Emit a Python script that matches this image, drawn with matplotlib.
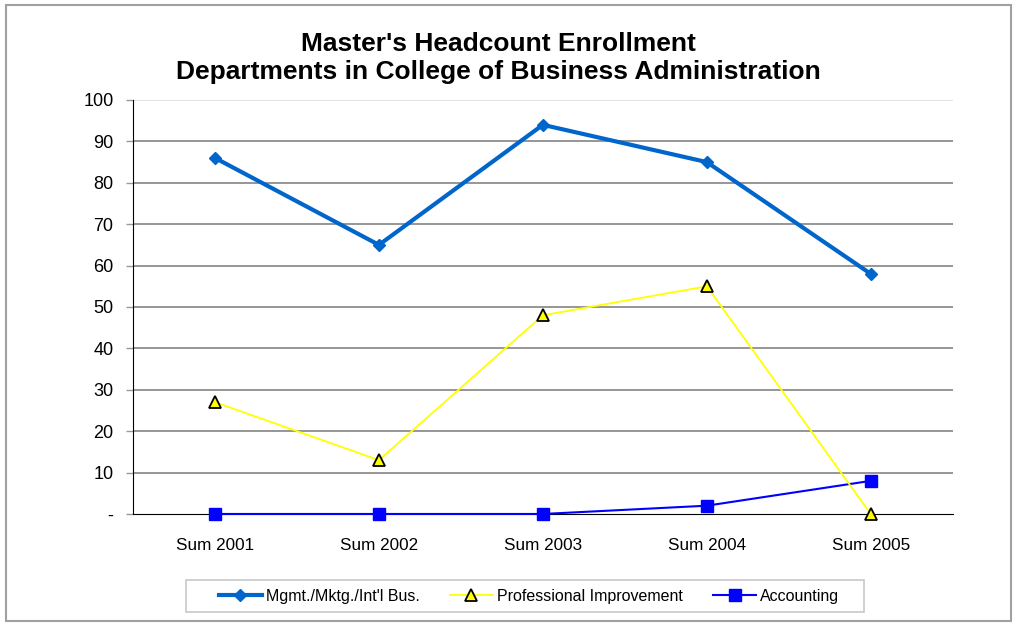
import matplotlib
matplotlib.use("Agg")
import matplotlib.pyplot as plt
from matplotlib.patches import Rectangle

plt.rcParams['font.family'] = ['Liberation Sans', 'DejaVu Sans']

categories = ["Sum 2001", "Sum 2002", "Sum 2003", "Sum 2004", "Sum 2005"]
mgmt = [86, 65, 94, 85, 58]
prof = [27, 13, 48, 55, 0]
acct = [0, 0, 0, 2, 8]
yticks = [0, 10, 20, 30, 40, 50, 60, 70, 80, 90, 100]
ytick_labels = ["-", "10", "20", "30", "40", "50", "60", "70", "80", "90", "100"]

W, H = 1017, 623
fig = plt.figure(figsize=(W / 100, H / 100), dpi=100)
ax = fig.add_axes([0.1308, 0.175, 0.806, 0.6645])

# outer chart border
fig.patches.append(Rectangle((0.006, 0.004), 0.988, 0.988, transform=fig.transFigure,
                             fill=False, edgecolor='#a0a0a0', linewidth=1.5))
# legend box
fig.patches.append(Rectangle((186 / W, 1 - 612 / H), (864 - 186) / W, 32 / H,
                             transform=fig.transFigure, fill=False,
                             edgecolor='#c8c8c8', linewidth=1.2))

x = range(len(categories))
for v in yticks[1:-1]:
    ax.axhline(v, color='#969696', linewidth=1.4, zorder=0)
ax.axhline(100, color='#dddddd', linewidth=1.2, zorder=0)

ax.plot(x, mgmt, color='#0066CC', linewidth=3, marker='D', markersize=6.5,
        label="Mgmt./Mktg./Int'l Bus.", zorder=3, clip_on=False)
ax.plot(x, prof, color='#FFFF00', linewidth=1.3, marker='^', markersize=8,
        markerfacecolor='#FFFF00', markeredgecolor='black', markeredgewidth=1.3,
        label="Professional Improvement", zorder=4, clip_on=False)
ax.plot(x, acct, color='#0000FF', linewidth=1.5, marker='s', markersize=8,
        label="Accounting", zorder=3, clip_on=False)

ax.set_xlim(-0.5, 4.5)
ax.set_ylim(0, 100)
ax.set_yticks(yticks)
ax.set_yticklabels(ytick_labels, fontsize=13)
ax.set_xticks(list(x))
ax.set_xticklabels(categories, fontsize=12.3)
ax.tick_params(axis='x', length=0, pad=17)
ax.tick_params(axis='y', length=5, width=1, color='#999999', pad=9)

for s in ['top', 'right']:
    ax.spines[s].set_visible(False)
ax.spines['left'].set_color('black')
ax.spines['bottom'].set_color('black')

fig.text(0.49, 0.907, "Master's Headcount Enrollment\nDepartments in College of Business Administration",
         ha='center', va='center', fontsize=19, fontweight='bold', linespacing=1.25)

leg = fig.legend(loc='center', bbox_to_anchor=(529 / W, 1 - 596 / H), ncol=3, fontsize=11.5,
                 frameon=False, handlelength=2.7, handletextpad=0.25,
                 columnspacing=1.9, borderpad=0.3)

fig.savefig("out.png", dpi=100)
